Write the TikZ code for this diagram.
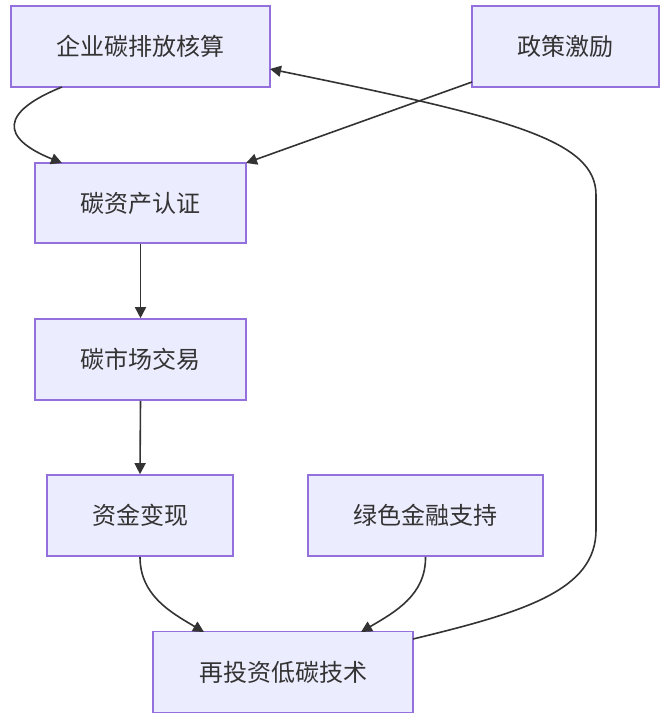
\documentclass[tikz,border=0pt]{standalone}
\usepackage{fontspec}
\newfontfamily\cjk{Noto Sans CJK SC}
\usetikzlibrary{arrows.meta}
\definecolor{boxfill}{HTML}{ECECFF}
\definecolor{boxline}{HTML}{9370DB}
\definecolor{ink}{HTML}{333333}
\tikzset{
  box/.style={draw=boxline, fill=boxfill, line width=1.6pt, rectangle, inner sep=0pt,
    text=ink, font=\cjk\fontsize{24}{28}\selectfont},
  conn/.style={draw=ink, line width=1.6pt, -{Triangle[length=11pt,width=11pt]}}
}
\begin{document}
\begin{tikzpicture}[x=1pt,y=-1pt]
\useasboundingbox (0,0) rectangle (667,723);
\node[box, minimum width=259pt, minimum height=81pt] (a) at (140.5,46.5) {企业碳排放核算};
\node[box, minimum width=187pt, minimum height=81pt] (p) at (565.5,46.5) {政策激励};
\node[box, minimum width=211pt, minimum height=80pt] (b) at (140.5,203) {碳资产认证};
\node[box, minimum width=211pt, minimum height=81pt] (c) at (140.5,359.5) {碳市场交易};
\node[box, minimum width=186pt, minimum height=81pt] (d) at (140,515.5) {资金变现};
\node[box, minimum width=235pt, minimum height=81pt] (g) at (425.5,515.5) {绿色金融支持};
\node[box, minimum width=260pt, minimum height=81pt] (r) at (283,672) {再投资低碳技术};

\coordinate (aS) at (62,87);
\coordinate (bN) at (62,163);
\draw[conn] (aS) .. controls (0,112) and (0,138) .. (bN);
\coordinate (pW) at (472,82);
\coordinate (bNE) at (246,163);
\draw[conn] (pW) -- (bNE);
\draw[conn] (b.south) -- (c.north);
\draw[conn] (c.south) -- (d.north);
\coordinate (rN1) at (204,632);
\coordinate (rN2) at (361,632);
\draw[conn] (d.south) .. controls (140,595) and (170,612) .. (rN1);
\draw[conn] (g.south) .. controls (426,595) and (395,612) .. (rN2);
\coordinate (rE) at (413,639);
\coordinate (aE) at (270,69);
\draw[conn] (rE) .. controls (525,612) and (596,590) .. (596,530)
  -- (596,195) .. controls (596,140) and (510,118) .. (aE);
\end{tikzpicture}
\end{document}
